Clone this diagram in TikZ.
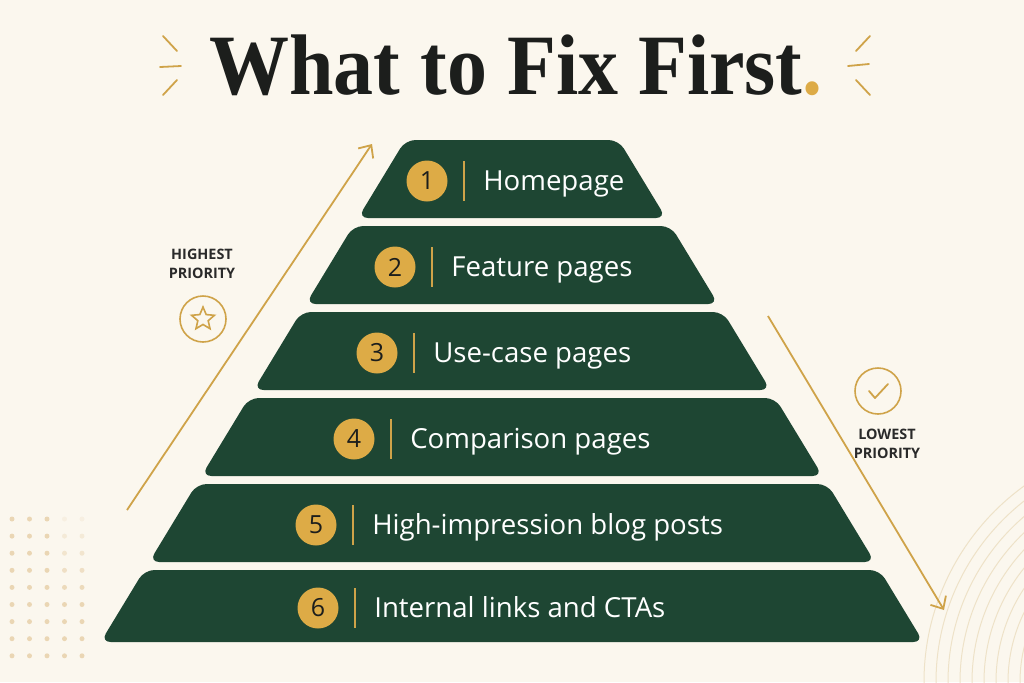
\documentclass[tikz,border=0pt]{standalone}
\usepackage{fontspec}
\setmainfont{Liberation Serif}
\setsansfont{Open Sans}
\usetikzlibrary{positioning,arrows.meta,shapes.geometric}

\definecolor{cream}{HTML}{FBF7EE}
\definecolor{pyrgreen}{HTML}{1E4633}
\definecolor{goldfill}{HTML}{DDAB46}
\definecolor{goldline}{HTML}{CFA349}
\definecolor{inkdark}{HTML}{1C1E1C}
\definecolor{lblgray}{HTML}{2A2A2A}
\definecolor{dotclr}{HTML}{DDBB85}
\definecolor{ringclr}{HTML}{EEE2C8}

\begin{document}
\begin{tikzpicture}[x=0.5pt, y=-0.5pt, >={Straight Barb[length=5pt,width=9pt]},
    tier/.style={fill=pyrgreen, rounded corners=5pt},
    numdot/.style={circle, fill=goldfill, minimum size=20.5pt, inner sep=0pt,
        text=inkdark, font=\sffamily\fontsize{12.5}{12.5}\selectfont},
    tierlbl/.style={inner sep=0pt, text=white, text height=9.9pt, text depth=0pt,
        font=\sffamily\fontsize{13.8}{13.8}\selectfont},
    divider/.style={goldline, line width=0.6pt},
    prio/.style={goldline, line width=0.9pt},
    priolbl/.style={align=center, text=lblgray, inner sep=0pt,
        font=\sffamily\bfseries\fontsize{7.2}{9.5}\selectfont},
    badge/.style={circle, draw=goldline, line width=0.8pt, minimum size=23pt, inner sep=0pt},
    spark/.style={goldline, line width=0.9pt, line cap=round},
    headline/.style={inner sep=0pt, text=inkdark, font=\bfseries\fontsize{43}{43}\selectfont}]

    % backdrop
    \useasboundingbox (0,0) rectangle (1024,682);
    \fill[cream] (0,0) rectangle (1024,682);

    % dotted patch and rings
    \foreach \c in {0,...,4}
        \foreach \r in {0,...,8}{
            \pgfmathsetmacro\op{\c<3 ? 0.55 : min(0.55,0.12+0.09*\r)}
            \fill[dotclr, opacity=\op] ({12+17.5*\c},{519+17.1*\r}) circle (2.5);
        }
    \begin{scope}
        \clip (0,0) rectangle (1024,682);
        \foreach \r in {146,158,...,242}
            \draw[ringclr, line width=0.5pt] (1166,682) circle (\r);
    \end{scope}

    % title
    \node[headline, anchor=base] (headline) at (516,94)
        {\scalebox{0.93}[1]{What to Fix First\textcolor{goldfill}{.}}};
    \draw[spark] (163,36) -- (177,51);
    \draw[spark] (160,67) -- (181,66);
    \draw[spark] (163,95) -- (177,80);
    \draw[spark] (870,36) -- (856,51);
    \draw[spark] (848,66) -- (869,64);
    \draw[spark] (856,80) -- (870,95);

    % the six tiers
    \foreach \i/\yt/\yb/\cx/\lab in {1/140/218/427/Homepage, 2/226/304/395/Feature pages,
            3/312/390/377/Use-case pages, 4/398/476/354/Comparison pages,
            5/484/562/316/High-impression blog posts, 6/570/642/318/Internal links and CTAs}{
        \pgfmathsetmacro\wt{154+0.607*(\yt-218)}
        \pgfmathsetmacro\wb{154+0.607*(\yb-218)}
        \pgfmathsetmacro\ym{(\yt+\yb)/2+2}
        \fill[tier] ({512-\wt},\yt) -- ({512+\wt},\yt) -- ({512+\wb},\yb) -- ({512-\wb},\yb) -- cycle;
        \node[numdot] (n\i) at (\cx,\ym) {\i};
        \node[tierlbl, right=17.5pt of n\i] (l\i) {\lab};
        \draw[divider] ([xshift=8pt]n\i.east) ++(0,-20) -- ++(0,40);
    }

    % highest priority
    \coordinate (hiS) at (127,510);
    \coordinate (hiE) at (372,144);
    \draw[prio, ->] (hiS) -- (hiE);
    \node[priolbl] (hilbl) at (202,264) {HIGHEST\\PRIORITY};
    \node[badge] (starring) at (203,319) {};
    \node[star, star points=5, star point ratio=2.2, draw=goldline, line width=0.8pt,
        minimum size=12pt, inner sep=0pt] (starmark) at (starring) {};

    % lowest priority
    \coordinate (loS) at (768,316);
    \coordinate (loE) at (944,610);
    \draw[prio, ->] (loS) -- (loE);
    \node[badge] (chkring) at (878,391) {};
    \draw[prio, line cap=round, line join=round] ([shift={(-9,0)}]chkring.center)
        -- ++(6,7) -- ++(13,-14);
    \node[priolbl] (lolbl) at (887,444) {LOWEST\\PRIORITY};
\end{tikzpicture}
\end{document}
